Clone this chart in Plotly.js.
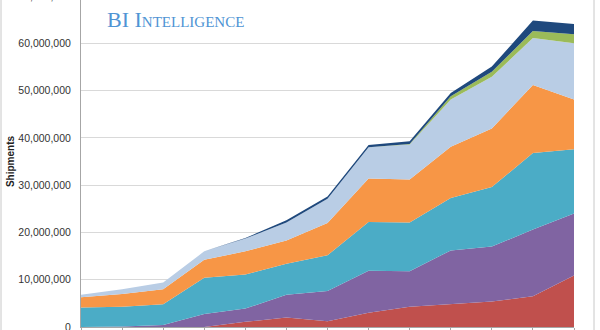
<!DOCTYPE html>
<html><head><meta charset="utf-8">
<script src="https://cdn.plot.ly/plotly-3.0.1.min.js"></script>
<style>
html,body{margin:0;padding:0;width:600px;height:330px;overflow:hidden;background:#fff}
#chart{position:absolute;left:0;top:-20px;width:600px;height:360px}
</style>
</head><body><div id="chart"></div>
<script>
// 13 periods (x-axis labels are cropped out of the reference)
const periods = ["1","2","3","4","5","6","7","8","9","10","11","12","13"];
// Stacked series, bottom to top (units: shipments)
const seriesRed    = [0, 0, 0, 0, 1.1, 2.0, 1.2, 3.0, 4.3, 4.9, 5.4, 6.5, 10.9].map(v => v * 1e6);
const seriesPurple = [0, 0.1, 0.4, 2.75, 2.8, 4.8, 6.4, 8.9, 7.5, 11.3, 11.6, 14.1, 13.1].map(v => v * 1e6);
const seriesTeal   = [4.1, 4.2, 4.4, 7.65, 7.2, 6.6, 7.6, 10.3, 10.3, 11.1, 12.6, 16.2, 13.6].map(v => v * 1e6);
const seriesOrange = [2.2, 2.7, 3.2, 3.8, 4.9, 4.9, 6.8, 9.2, 9.1, 10.8, 12.4, 14.4, 10.5].map(v => v * 1e6);
const seriesLtBlue = [0.5, 1.0, 1.4, 1.8, 2.7, 3.8, 5.1, 6.6, 7.4, 10.0, 10.9, 9.9, 11.9].map(v => v * 1e6);
const seriesGreen  = [0, 0, 0, 0, 0, 0, 0, 0, 0.1, 0.7, 1.1, 1.5, 1.9].map(v => v * 1e6);
const seriesNavy   = [0, 0, 0, 0, 0.1, 0.5, 0.5, 0.5, 0.6, 0.7, 1.1, 2.2, 2.2].map(v => v * 1e6);
const yTickVals = [0, 10e6, 20e6, 30e6, 40e6, 50e6, 60e6, 70e6];

const series = [
  {name: "Series 1", y: seriesRed,    color: "#C0504D"},
  {name: "Series 2", y: seriesPurple, color: "#8064A2"},
  {name: "Series 3", y: seriesTeal,   color: "#4BACC6"},
  {name: "Series 4", y: seriesOrange, color: "#F79646"},
  {name: "Series 5", y: seriesLtBlue, color: "#B9CDE5"},
  {name: "Series 6", y: seriesGreen,  color: "#9BBB59"},
  {name: "Series 7", y: seriesNavy,   color: "#1F497D"}
];

const traces = series.map(s => ({
  type: "scatter", mode: "lines", x: periods, y: s.y, name: s.name,
  stackgroup: "one", line: {width: 0, color: s.color}, fillcolor: s.color,
  hoverinfo: "skip"
}));

const plotTop = 16.2, plotBottom = 347.3, H = 360;
const layout = {
  width: 600, height: H,
  margin: {l: 81, r: 26, t: plotTop, b: H - plotBottom, pad: 0},
  paper_bgcolor: "#fff", plot_bgcolor: "#fff",
  showlegend: false,
  font: {family: "Liberation Sans, Arial, sans-serif", color: "#404040"},
  xaxis: {
    type: "category", range: [0, periods.length - 1],
    showgrid: false, zeroline: false, showline: true, linecolor: "#A6A6A6", linewidth: 1,
    ticks: "outside", ticklen: 5, tickcolor: "#A6A6A6", showticklabels: false,
    tickson: "labels"
  },
  yaxis: {
    range: [0, 70e6], tickvals: yTickVals, tickformat: ",d",
    showgrid: true, gridcolor: "#D9D9D9", gridwidth: 1, zeroline: false,
    showline: true, linecolor: "#A6A6A6", linewidth: 1, ticks: "",
    tickfont: {size: 10.5, color: "#333"}, ticklabelstandoff: 7,
    title: {text: "<b>Shipments</b>", font: {size: 10, color: "#222"}, standoff: 1},
    automargin: false
  },
  shapes: [{
    type: "rect", xref: "paper", yref: "paper",
    x0: (1 - 81) / 493, x1: (594 - 81) / 493, y0: -0.2, y1: 1.3,
    line: {color: "#C8C8C8", width: 1}, fillcolor: "rgba(0,0,0,0)", layer: "below"
  }],
  annotations: [{
    text: "BI Intelligence", xref: "paper", yref: "paper",
    x: (105 - 81) / 493, xanchor: "left",
    y: (plotBottom - 40) / (plotBottom - plotTop), yanchor: "middle",
    showarrow: false,
    font: {family: "Liberation Serif, DejaVu Serif, serif", size: 22, color: "#4F94D4", variant: "small-caps"}
  }]
};

Plotly.newPlot("chart", traces, layout, {staticPlot: true, displayModeBar: false});
</script>
</body></html>
